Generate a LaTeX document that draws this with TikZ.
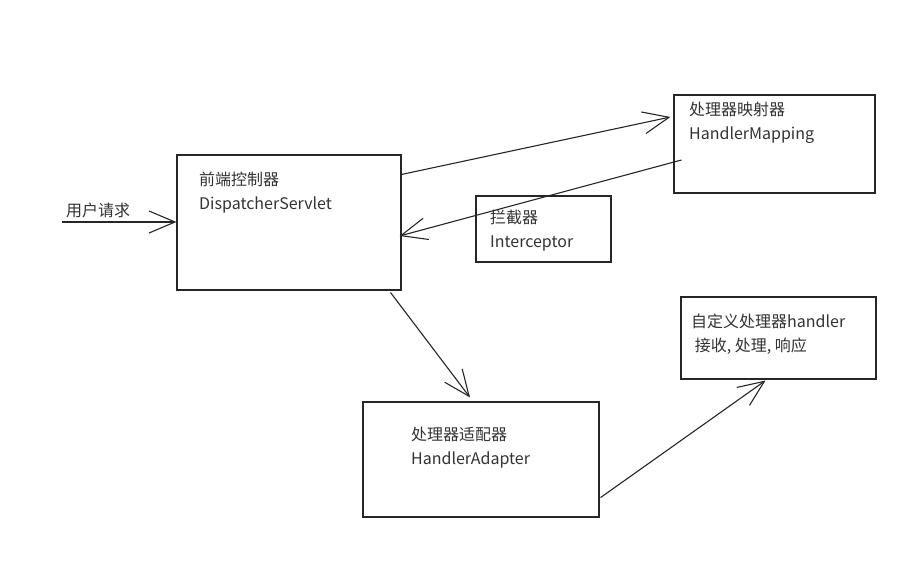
\documentclass[tikz,border=0pt]{standalone}
\usepackage{fontspec}
\setmainfont{Noto Sans CJK SC}
\usetikzlibrary{arrows.meta,calc}
\begin{document}
\begin{tikzpicture}[x=1pt,y=-1pt,
  box/.style={draw=black!85,line width=1.1pt,rectangle,inner sep=0pt},
  lbl/.style={anchor=north west,inner sep=0pt,align=left,font=\fontsize{16}{24}\selectfont,text=black!80},
  conn/.style={draw=black!85,line width=1.1pt,-{Straight Barb[length=26pt,width=22pt,line width=1.1pt]}}]
\useasboundingbox (0,0) rectangle (922,565);
\fill[white] (0,0) rectangle (922,565);
% boxes
\node[box,minimum width=224pt,minimum height=135pt] (ds) at (289,222.5) {};
\node[box,minimum width=201pt,minimum height=98pt] (hm) at (774.5,144) {};
\node[box,minimum width=135pt,minimum height=66pt] (ic) at (543.5,229) {};
\node[box,minimum width=236pt,minimum height=115pt] (ha) at (481,459.5) {};
\node[box,minimum width=195pt,minimum height=82pt] (hd) at (778.5,338) {};
% texts
\node[lbl] (dst) at (199,172) {前端控制器\\DispatcherServlet};
\node[lbl] (hmt) at (689,102) {处理器映射器\\HandlerMapping};
\node[lbl] (ict) at (490,210) {拦截器\\Interceptor};
\node[lbl] (hat) at (411,427) {处理器适配器\\HandlerAdapter};
\node[lbl] (hdt) at (691,314) {自定义处理器handler\\\ 接收, 处理, 响应};
\node[anchor=south west,inner sep=0pt,font=\fontsize{16}{18}\selectfont,text=black!80] (req) at (66,218) {用户请求};
% connectors
\coordinate (src) at (62,222);
\draw[conn,line width=1.6pt] (src) -- (ds.west |- src);
\draw[conn] ($(ds.north east)+(0,20)$) -- ($(hm.west)+(-3,-27)$);
\draw[conn] ($(hm.west)+(8,16)$) -- ($(ds.east)+(-2,13.5)$);
\draw[conn] ($(ds.south east)+(-11,2)$) -- ($(ha.north)+(-11,-4)$);
\draw[conn] ($(ha.south east)+(1,-20)$) -- ($(hd.south)+(-13,1)$);
\end{tikzpicture}
\end{document}
